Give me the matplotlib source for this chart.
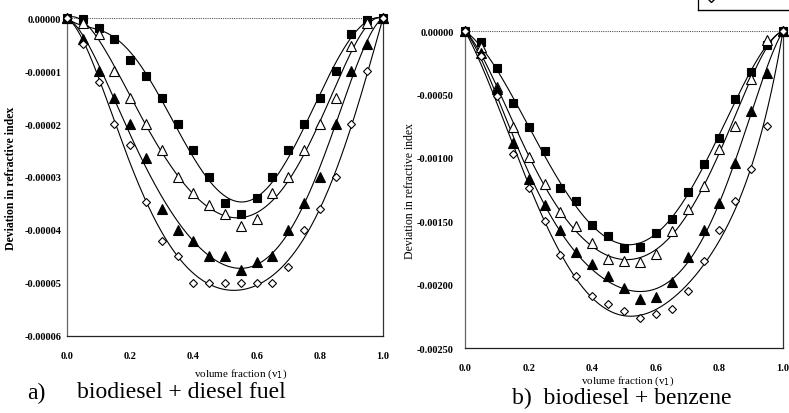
import numpy as np
import matplotlib
matplotlib.use("Agg")
import matplotlib.pyplot as plt
from matplotlib.lines import Line2D

plt.rcParams['font.family'] = ['Liberation Serif', 'DejaVu Serif']

# volume fraction of biodiesel
v = [0.0, 0.05, 0.1, 0.15, 0.2, 0.25, 0.3, 0.35, 0.4, 0.45, 0.5,
     0.55, 0.6, 0.65, 0.7, 0.75, 0.8, 0.85, 0.9, 0.95, 1.0]

# a) biodiesel + diesel fuel
a_sq = [0, -0.0000002, -0.0000019, -0.000004, -0.0000079, -0.000011, -0.000015,
        -0.00002, -0.000025, -0.00003, -0.000035, -0.000037, -0.000034, -0.00003,
        -0.000025, -0.00002, -0.000015, -0.00001, -0.000003, -0.0000003, 0]
a_otri = [0, -0.0000009, -0.000003, -0.00001, -0.000015, -0.00002, -0.000025,
          -0.00003, -0.000033, -0.0000352, -0.000037, -0.0000392, -0.000038,
          -0.000033, -0.00003, -0.000025, -0.00002, -0.000015, -0.0000052,
          -0.0000009, 0]
a_ftri = [0, -0.000004, -0.00001, -0.000015, -0.00002, -0.0000265, -0.000036,
          -0.00004, -0.000042, -0.000045, -0.000045, -0.0000475, -0.000046,
          -0.000045, -0.00004, -0.000035, -0.00003, -0.00002, -0.00001,
          -0.0000049, 0]
a_dia = [0, -0.0000049, -0.000012, -0.00002, -0.000024, -0.0000347, -0.000042,
         -0.000045, -0.00005, -0.00005, -0.00005, -0.00005, -0.00005, -0.00005,
         -0.000047, -0.00004, -0.000036, -0.00003, -0.00002, -0.00001, 0]

# b) biodiesel + benzene
b_sq = [0, -0.00009, -0.00029, -0.00057, -0.00076, -0.00095, -0.00124, -0.00134,
        -0.00153, -0.00162, -0.00171, -0.0017, -0.00159, -0.00148, -0.00127,
        -0.00105, -0.00084, -0.00054, -0.00032, -0.00011, 0]
b_otri = [0, -0.00013, -0.00044, -0.00076, -0.00099, -0.00121, -0.00143, -0.00154,
          -0.00167, -0.0018, -0.00181, -0.00182, -0.00176, -0.00158, -0.0014,
          -0.00122, -0.00093, -0.00075, -0.00038, -0.00007, 0]
b_ftri = [0, -0.00017, -0.00046, -0.00088, -0.00117, -0.00137, -0.00157, -0.00174,
          -0.00184, -0.00193, -0.00203, -0.00211, -0.0021, -0.00198, -0.00178,
          -0.00157, -0.00136, -0.00104, -0.00063, -0.00033, 0]
b_dia = [0, -0.0002, -0.00051, -0.00097, -0.00124, -0.0015, -0.00177, -0.00193,
         -0.00209, -0.00215, -0.00221, -0.00226, -0.00223, -0.00219, -0.00205,
         -0.00181, -0.00157, -0.00134, -0.00109, -0.00075, 0]

xticks = [0.0, 0.2, 0.4, 0.6, 0.8, 1.0]
ylab = 'Deviation in refractive index'
xlab = 'volume fraction (v$_1$)'


def rk_fit(x, y, n=5):
    # Redlich-Kister type trend line through the points
    x = np.asarray(x); y = np.asarray(y)
    A = np.column_stack([x*(1-x)*(2*x-1)**k for k in range(n)])
    c = np.linalg.lstsq(A, y, rcond=None)[0]
    xs = np.linspace(0, 1, 300)
    As = np.column_stack([xs*(1-xs)*(2*xs-1)**k for k in range(n)])
    return xs, As @ c


def panel(ax, series, ylim, yticks, fmt):
    styles = [dict(marker='s', mfc='black', ms=6),
              dict(marker='^', mfc='white', ms=6.5),
              dict(marker='^', mfc='black', ms=6.5),
              dict(marker='D', mfc='white', ms=4.5)]
    for y, st in zip(series, styles):
        xs, ys = rk_fit(v, y)
        ax.plot(xs, ys, color='black', lw=0.8, clip_on=False)
        ax.plot(v, y, ls='none', mec='black', mew=0.8, clip_on=False, zorder=3, **st)
    ax.set_xlim(0, 1)
    ax.set_ylim(*ylim)
    ax.set_xticks(xticks)
    ax.set_xticklabels(['%.1f' % t for t in xticks], fontsize=7.5, fontweight='bold')
    ax.set_yticks(yticks)
    ax.set_yticklabels([fmt % t for t in yticks], fontsize=7.5, fontweight='bold')
    ax.tick_params(length=0)
    ax.axhline(0, color='#555555', lw=0.8, ls=(0, (1, 1)), zorder=1)
    ax.spines['top'].set_visible(False)
    ax.spines['left'].set_linestyle((0, (1, 1)))
    ax.spines['left'].set_color('#666666')
    ax.spines['right'].set_color('#333333')
    ax.spines['bottom'].set_color('#222222')
    for s in ax.spines.values():
        s.set_linewidth(0.9)


fig = plt.figure(figsize=(7.89, 4.14), dpi=100)

ax1 = fig.add_axes([0.0849, 0.1860, 0.4005, 0.7681])
panel(ax1, [a_sq, a_otri, a_ftri, a_dia], (-0.00006, 0),
      [0, -0.00001, -0.00002, -0.00003, -0.00004, -0.00005, -0.00006], '%.5f')
ax1.tick_params(axis='x', pad=11)
ax1.tick_params(axis='y', pad=4)
ax1.set_ylabel(ylab, fontsize=8.5, fontweight='bold', labelpad=5)
ax1.set_xlabel(xlab, fontsize=8)
ax1.xaxis.set_label_coords(0.55, -0.095)

ax2 = fig.add_axes([0.5894, 0.1570, 0.4030, 0.7657])
panel(ax2, [b_sq, b_otri, b_ftri, b_dia], (-0.0025, 0),
      [0, -0.0005, -0.001, -0.0015, -0.002, -0.0025], '%.5f')
ax2.tick_params(axis='x', pad=11)
ax2.tick_params(axis='y', pad=8)
ax2.set_ylabel(ylab, fontsize=8.5, labelpad=1)
ax2.set_xlabel(xlab, fontsize=8)
ax2.xaxis.set_label_coords(0.51, -0.08)

fig.text(27/789, 1-393/414, 'a)', fontsize=17, va='center', ha='left')
fig.text(77/789, 1-393/414, 'biodiesel + diesel fuel', fontsize=17, va='center', ha='left')
fig.text(512/789, 1-398/414, 'b)  biodiesel + benzene', fontsize=17, va='center', ha='left')

# cut-off legend box at the top right corner
fig.add_artist(Line2D([698/789, 698/789], [1, 1-11/414], color='black', lw=0.9))
fig.add_artist(Line2D([698/789, 1], [1-11/414, 1-11/414], color='black', lw=1.0))
fig.add_artist(Line2D([711/789], [1+1/414], marker='D', ms=4.5, mfc='white', mec='black', ls='none'))

fig.savefig('out.png', dpi=100)
